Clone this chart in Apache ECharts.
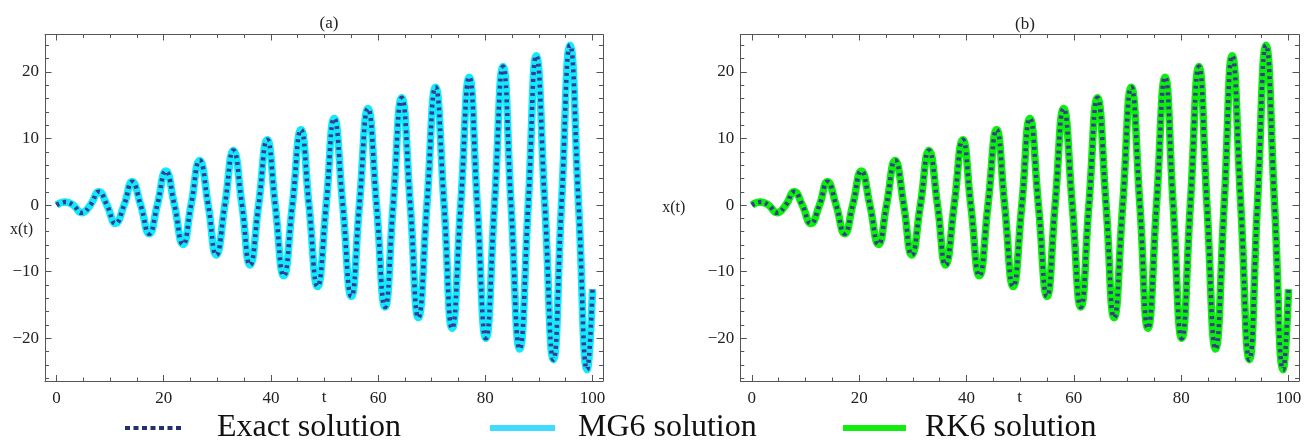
<!DOCTYPE html>
<html><head><meta charset="utf-8">
<script src="https://cdn.jsdelivr.net/npm/echarts@6/dist/echarts.min.js"></script>
<style>html,body{margin:0;padding:0;background:#fff}#c{width:1308px;height:441px}</style>
</head><body><div id="c"></div>
<script>
// t positions (extrema and zero crossings)
const tValues = [0,1.6,3.1,4.7,6.3,7.9,9.4,11.0,12.6,14.1,15.7,17.3,18.8,20.4,22.0,23.6,25.1,26.7,28.3,29.8,31.4,33.0,34.6,36.1,37.7,39.3,40.8,42.4,44.0,45.6,47.1,48.7,50.3,51.8,53.4,55.0,56.5,58.1,59.7,61.3,62.8,64.4,66.0,67.5,69.1,70.7,72.3,73.8,75.4,77.0,78.5,80.1,81.7,83.3,84.8,86.4,88.0,89.5,91.1,92.7,94.2,95.8,97.4,99.0,100.0];
const exactValues = [0,0.45,0,-1.15,0,2.0,0,-2.75,0,3.5,0,-4.3,0,5.1,0,-5.9,0,6.7,0,-7.5,0,8.2,0,-9.0,0,9.8,0,-10.6,0,11.3,0,-12.2,0,13.0,0,-13.7,0,14.5,0,-15.3,0,16.1,0,-16.9,0,17.7,0,-18.5,0,19.2,0,-20.0,0,20.8,0,-21.6,0,22.4,0,-23.2,0,24.0,0,-24.7,-12.6];
const mg6Values = [0,0.45,0,-1.15,0,2.0,0,-2.75,0,3.5,0,-4.3,0,5.1,0,-5.9,0,6.7,0,-7.5,0,8.2,0,-9.0,0,9.8,0,-10.6,0,11.3,0,-12.2,0,13.0,0,-13.7,0,14.5,0,-15.3,0,16.1,0,-16.9,0,17.7,0,-18.5,0,19.2,0,-20.0,0,20.8,0,-21.6,0,22.4,0,-23.2,0,24.0,0,-24.7,-12.6];
const rk6Values = [0,0.45,0,-1.15,0,2.0,0,-2.75,0,3.5,0,-4.3,0,5.1,0,-5.9,0,6.7,0,-7.5,0,8.2,0,-9.0,0,9.8,0,-10.6,0,11.3,0,-12.2,0,13.0,0,-13.7,0,14.5,0,-15.3,0,16.1,0,-16.9,0,17.7,0,-18.5,0,19.2,0,-20.0,0,20.8,0,-21.6,0,22.4,0,-23.2,0,24.0,0,-24.7,-12.6];

const xMajorTicks = [0,20,40,60,80,100];
const xMinorTicks = [5,10,15,25,30,35,45,50,55,65,70,75,85,90,95];
const yMajorTicks = [-20,-10,0,10,20];
const yMinorTicks = [-26,-24,-22,-18,-16,-14,-12,-8,-6,-4,-2,2,4,6,8,12,14,16,18,22,24];
const panelTitles = ['(a)','(b)'];
const seriesNames = ['Exact solution','MG6 solution','RK6 solution'];
const xAxisName = 't';
const yAxisName = 'x(t)';

const FONT = 'Liberation Serif';
const FRAME = '#555';
const X_MIN = -2.15, X_MAX = 101.95, Y_MIN = -26.4, Y_MAX = 25.6;
const pairs = arr => tValues.map((t, i) => [t, arr[i]]);
const fmtY = v => v < 0 ? '\u2212' + Math.abs(v) : String(v);

function xAx(grid, pos, major, opts) {
  return Object.assign({
    type: 'value', gridIndex: grid, position: pos, min: X_MIN, max: X_MAX,
    splitLine: {show: false},
    axisLine: {show: major, onZero: false, lineStyle: {color: FRAME, width: 1}},
    axisTick: {show: true, inside: true, length: major ? 6 : 3.5,
      customValues: major ? xMajorTicks : xMinorTicks, lineStyle: {color: FRAME, width: 1}},
    axisLabel: {show: false}
  }, opts || {});
}
function yAx(grid, pos, major, opts) {
  return Object.assign({
    type: 'value', gridIndex: grid, position: pos, min: Y_MIN, max: Y_MAX,
    splitLine: {show: false},
    axisLine: {show: major, onZero: false, lineStyle: {color: FRAME, width: 1}},
    axisTick: {show: true, inside: true, length: major ? 6.5 : 4,
      customValues: major ? yMajorTicks : yMinorTicks, lineStyle: {color: FRAME, width: 1}},
    axisLabel: {show: false}
  }, opts || {});
}

const xAxes = [], yAxes = [];
[0, 1].forEach(g => {
  xAxes.push(xAx(g, 'bottom', true, {
    axisLabel: {show: true, customValues: xMajorTicks, margin: 9, fontFamily: FONT, fontSize: 17, color: '#222'},
    name: xAxisName, nameLocation: 'middle', nameGap: 8, nameMoveOverlap: false,
    nameTextStyle: {fontFamily: FONT, fontSize: 17, color: '#222', verticalAlign: 'top'}
  }));
  xAxes.push(xAx(g, 'bottom', false));
  xAxes.push(xAx(g, 'top', true));
  xAxes.push(xAx(g, 'top', false));
  yAxes.push(yAx(g, 'left', true, {
    axisLabel: {show: true, customValues: yMajorTicks, margin: 6, fontFamily: FONT, fontSize: 17, color: '#222', formatter: fmtY},
    name: yAxisName, nameLocation: 'middle', nameRotate: 0, nameGap: g === 0 ? 12 : 55, nameMoveOverlap: false,
    nameTextStyle: g === 0
      ? {fontFamily: FONT, fontSize: 16, color: '#222', verticalAlign: 'top', padding: [14, 0, 0, 0]}
      : {fontFamily: FONT, fontSize: 16, color: '#222'}
  }));
  yAxes.push(yAx(g, 'left', false));
  yAxes.push(yAx(g, 'right', true));
  yAxes.push(yAx(g, 'right', false));
});

const NAVY = '#3a3a8e', CYAN = '#10eaff', GREEN = '#0af00a';
const exactStyle = {color: NAVY, width: 4.5, type: [3, 4], cap: 'butt'};

const option = {
  animation: false,
  backgroundColor: '#fff',
  textStyle: {fontFamily: FONT},
  title: [
    {text: panelTitles[0], left: 324, top: 10, textAlign: 'center', textStyle: {fontFamily: FONT, fontSize: 17, fontWeight: 'normal', color: '#222'}},
    {text: panelTitles[1], left: 1020, top: 11, textAlign: 'center', textStyle: {fontFamily: FONT, fontSize: 17, fontWeight: 'normal', color: '#222'}}
  ],
  grid: [
    {left: 45, right: 705, top: 34.5, bottom: 60},
    {left: 740.3, right: 9, top: 34.5, bottom: 60}
  ],
  xAxis: xAxes,
  yAxis: yAxes,
  legend: [
    {left: 125, top: 412, padding: 0, selectedMode: false, itemWidth: 56, itemHeight: 4,
     data: [{name: seriesNames[0], icon: 'path://M0,0h5v4h-5zM8.5,0h5v4h-5zM17,0h5v4h-5zM25.5,0h5v4h-5zM34,0h5v4h-5zM42.5,0h5v4h-5zM51,0h5v4h-5z', itemStyle: {color: '#23306f'}}],
     textStyle: {fontFamily: FONT, fontSize: 32, color: '#111', padding: [0, 0, 0, 31]}},
    {left: 490, top: 412, padding: 0, selectedMode: false, itemWidth: 65, itemHeight: 6,
     data: [{name: seriesNames[1], icon: 'rect', itemStyle: {color: '#40dcff'}}],
     textStyle: {fontFamily: FONT, fontSize: 32, color: '#111', padding: [0, 0, 0, 18]}},
    {left: 843, top: 412, padding: 0, selectedMode: false, itemWidth: 63, itemHeight: 6,
     data: [{name: seriesNames[2], icon: 'rect', itemStyle: {color: '#10ee10'}}],
     textStyle: {fontFamily: FONT, fontSize: 32, color: '#111', padding: [0, 0, 0, 14]}}
  ],
  series: [
    {name: seriesNames[1], type: 'line', xAxisIndex: 0, yAxisIndex: 0, data: pairs(mg6Values), smooth: true, showSymbol: false,
     itemStyle: {color: CYAN}, lineStyle: {color: CYAN, width: 7.5}, silent: true},
    {name: seriesNames[0], type: 'line', xAxisIndex: 0, yAxisIndex: 0, data: pairs(exactValues), smooth: true, showSymbol: false,
     itemStyle: {color: NAVY}, lineStyle: exactStyle, silent: true},
    {name: seriesNames[2], type: 'line', xAxisIndex: 4, yAxisIndex: 4, data: pairs(rk6Values), smooth: true, showSymbol: false,
     itemStyle: {color: GREEN}, lineStyle: {color: GREEN, width: 7.5}, silent: true},
    {name: seriesNames[0], type: 'line', xAxisIndex: 4, yAxisIndex: 4, data: pairs(exactValues), smooth: true, showSymbol: false,
     itemStyle: {color: NAVY}, lineStyle: exactStyle, silent: true}
  ]
};
const chart = echarts.init(document.getElementById('c'), null, {renderer: 'canvas'});
chart.setOption(option);
</script></body></html>
